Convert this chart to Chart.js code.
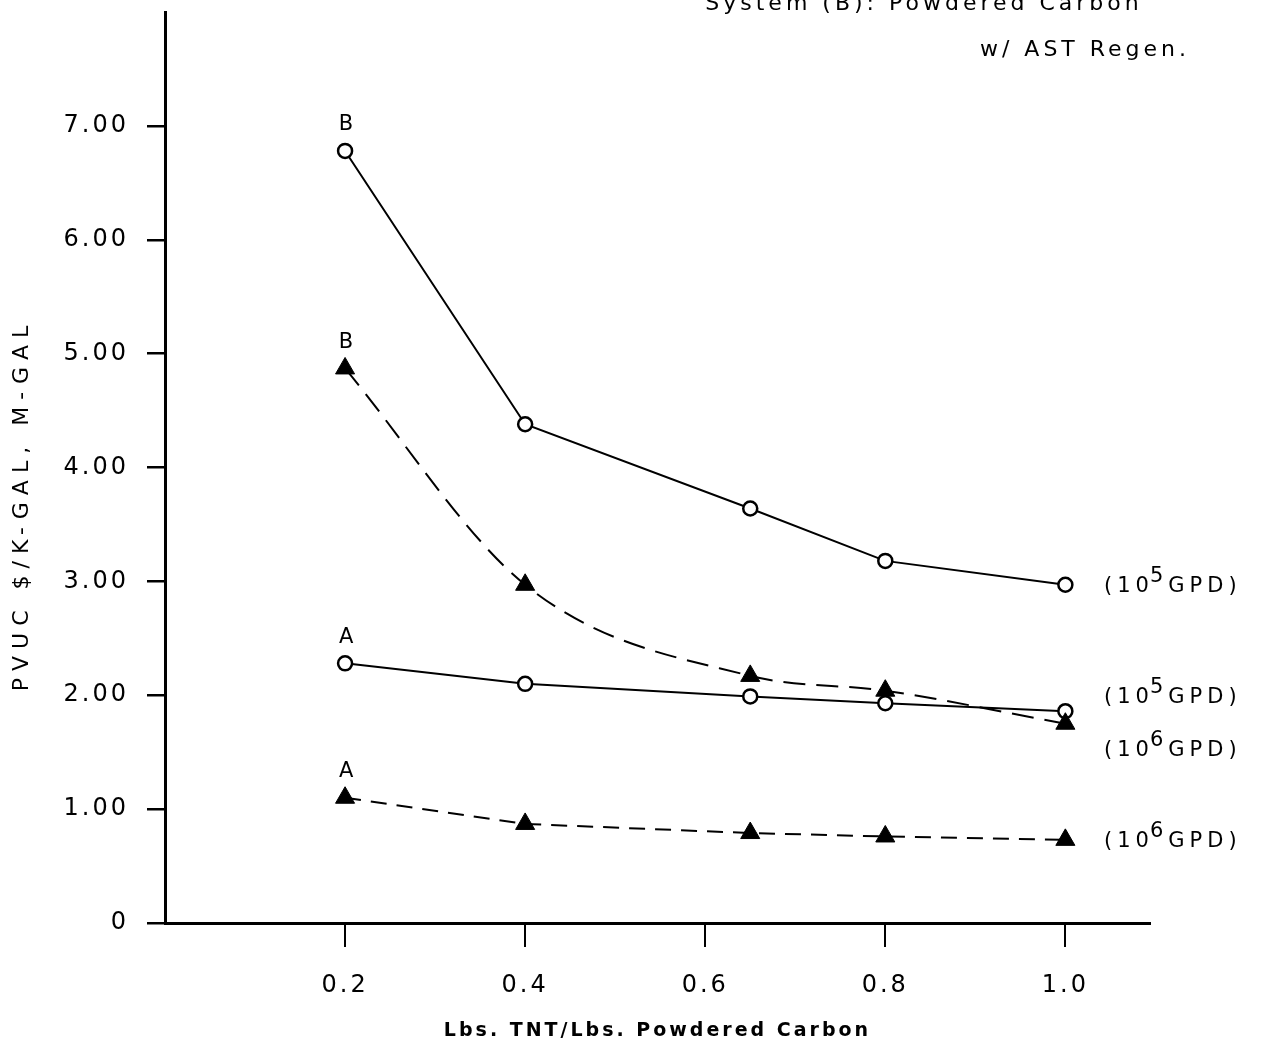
<!DOCTYPE html>
<html>
<head>
<meta charset="utf-8">
<script src="https://cdn.jsdelivr.net/npm/chart.js@4"></script>
<style>
  body { margin: 0; background: #fff; }
  canvas { display: block; }
</style>
</head>
<body>
<canvas id="myChart" width="1263" height="1047"></canvas>
<script>
// Données
const xValues = [0.2, 0.4, 0.65, 0.8, 1.0];
const sysB_1e5 = [6.78, 4.38, 3.64, 3.18, 2.97];
const sysB_1e6 = [4.87, 2.97, 2.17, 2.04, 1.75];
const sysA_1e5 = [2.28, 2.10, 1.99, 1.93, 1.86];
const sysA_1e6 = [1.10, 0.87, 0.79, 0.76, 0.73];

const xTicks = [0.2, 0.4, 0.6, 0.8, 1.0];
const yTicks = [0, 1, 2, 3, 4, 5, 6, 7];

// étiquettes "A"/"B" au-dessus du premier point, et débits à droite
const letterLabels = [
    { text: 'B', x: 0.2, y: 6.78 },
    { text: 'B', x: 0.2, y: 4.87 },
    { text: 'A', x: 0.2, y: 2.28 },
    { text: 'A', x: 0.2, y: 1.10 },
];
const flowLabels = [
    { exp: '5', y: 2.97 },
    { exp: '5', y: 2.00 },
    { exp: '6', y: 1.53 },
    { exp: '6', y: 0.73 },
];

const toPoints = (ys) => xValues.map((x, i) => ({ x: x, y: ys[i] }));

const circleStyle = {
    pointStyle: 'circle',
    pointRadius: 7,
    pointBackgroundColor: '#fff',
    pointBorderColor: '#000',
    pointBorderWidth: 2.5,
};
const triangleStyle = {
    pointStyle: 'triangle',
    pointRadius: 11,
    pointBackgroundColor: '#000',
    pointBorderColor: '#000',
    pointBorderWidth: 1,
};

const data = {
    datasets: [{
        label: 'B 10^5 GPD',
        data: toPoints(sysB_1e5),
        borderColor: '#000',
        borderWidth: 2,
        tension: 0,
        ...circleStyle,
    }, {
        label: 'B 10^6 GPD',
        data: toPoints(sysB_1e6),
        borderColor: '#000',
        borderWidth: 2,
        borderDash: [22, 11],
        cubicInterpolationMode: 'monotone',
        ...triangleStyle,
    }, {
        label: 'A 10^5 GPD',
        data: toPoints(sysA_1e5),
        borderColor: '#000',
        borderWidth: 2,
        tension: 0,
        ...circleStyle,
    }, {
        label: 'A 10^6 GPD',
        data: toPoints(sysA_1e6),
        borderColor: '#000',
        borderWidth: 2,
        borderDash: [16, 10],
        tension: 0,
        ...triangleStyle,
    }]
};

// espacement des lettres (le canvas est réinitialisé au redimensionnement)
const spacingPlugin = {
    id: 'spacing',
    beforeLayout(chart) { chart.ctx.letterSpacing = '3px'; },
    beforeDraw(chart) { chart.ctx.letterSpacing = '3px'; },
};

// textes : titre en haut à droite, titre vertical, A/B et débits
const textPlugin = {
    id: 'texts',
    afterDraw(chart) {
        const ctx = chart.ctx;
        const xs = chart.scales.x;
        const ys = chart.scales.y;
        ctx.save();
        ctx.fillStyle = '#000';
        ctx.textBaseline = 'middle';

        ctx.font = '22px "DejaVu Sans"';
        ctx.letterSpacing = '4px';
        ctx.textAlign = 'center';
        ctx.fillText('System (B): Powdered Carbon', 924, 4);
        ctx.fillText('w/ AST Regen.', 1085, 50);

        ctx.font = '21px "DejaVu Sans"';
        ctx.letterSpacing = '2px';
        letterLabels.forEach(l => {
            ctx.fillText(l.text, xs.getPixelForValue(l.x) + 2, ys.getPixelForValue(l.y) - 26);
        });

        ctx.textAlign = 'left';
        ctx.font = '21px "DejaVu Sans"';
        ctx.letterSpacing = '5px';
        flowLabels.forEach(l => {
            const y = ys.getPixelForValue(l.y);
            let x = 1104;
            ctx.fillText('(10', x, y + 2);
            x += ctx.measureText('(10').width;
            ctx.fillText(l.exp, x - 4, y - 8);
            x += ctx.measureText(l.exp).width;
            ctx.fillText('GPD)', x - 4, y + 2);
        });

        // titre de l'axe vertical
        ctx.translate(22, 505);
        ctx.rotate(-Math.PI / 2);
        ctx.textAlign = 'center';
        ctx.font = '22px "DejaVu Sans"';
        ctx.letterSpacing = '7px';
        ctx.fillText('PVUC $/K-GAL, M-GAL', 0, 0);
        ctx.restore();
    }
};

const config = {
    type: 'scatter',
    data: data,
    options: {
        responsive: false,
        animation: false,
        showLine: true,
        layout: {
            padding: { top: 11, right: 113, bottom: 0, left: 0 }
        },
        scales: {
            x: {
                type: 'linear',
                min: 0,
                max: 1.094,
                afterBuildTicks: (scale) => { scale.ticks = xTicks.map(v => ({ value: v })); },
                afterFit: (scale) => {
                    scale.height = 124;
                    scale.paddingLeft = 0;
                    scale.paddingRight = 0;
                },
                ticks: {
                    color: '#000',
                    padding: 24,
                    font: { family: 'DejaVu Sans', size: 24 },
                    callback: (v) => Number(v).toFixed(1),
                },
                grid: {
                    drawOnChartArea: false,
                    drawTicks: true,
                    tickLength: 24,
                    color: '#000',
                    lineWidth: 2,
                },
                border: { display: true, color: '#000', width: 3 },
                title: {
                    display: true,
                    text: 'Lbs. TNT/Lbs. Powdered Carbon',
                    color: '#000',
                    font: { family: 'DejaVu Sans', size: 19, weight: 'bold' },
                    padding: { top: 0, bottom: 5 },
                },
            },
            y: {
                type: 'linear',
                min: 0,
                max: 8,
                afterBuildTicks: (scale) => { scale.ticks = yTicks.map(v => ({ value: v })); },
                afterFit: (scale) => {
                    scale.width = 165;
                    scale.paddingTop = 0;
                    scale.paddingBottom = 0;
                },
                ticks: {
                    color: '#000',
                    padding: 18,
                    font: { family: 'DejaVu Sans', size: 24 },
                    callback: (v) => v === 0 ? '0' : Number(v).toFixed(2),
                },
                grid: {
                    drawOnChartArea: false,
                    drawTicks: true,
                    tickLength: 18,
                    color: '#000',
                    lineWidth: 2.5,
                },
                border: { display: true, color: '#000', width: 3 },
            },
        },
        plugins: {
            legend: { display: false },
            tooltip: { enabled: false },
            title: { display: false },
        },
    },
    plugins: [spacingPlugin, textPlugin],
};

var myChart = new Chart(document.getElementById('myChart'), config);
</script>
</body>
</html>
